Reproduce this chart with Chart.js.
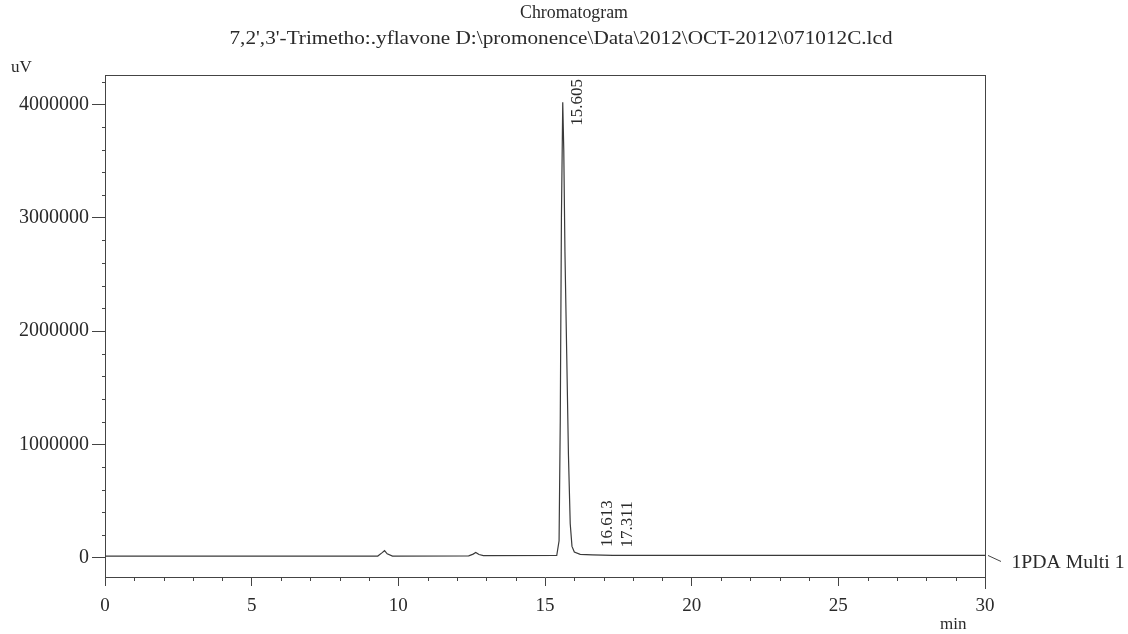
<!DOCTYPE html>
<html>
<head>
<meta charset="utf-8">
<script src="https://cdn.jsdelivr.net/npm/chart.js@4"></script>
<style>
  html, body { margin: 0; padding: 0; background: #ffffff; }
  #wrap { width: 1128px; height: 634px; position: relative; }
</style>
</head>
<body>
<div id="wrap"><canvas id="c"></canvas></div>
<script>
// ---- data ----
const titleLine1 = "Chromatogram";
const titleLine2 = "7,2',3'-Trimetho:.yflavone D:\\promonence\\Data\\2012\\OCT-2012\\071012C.lcd";
const yUnit = "uV";
const xUnit = "min";
const traceName = "1PDA Multi 1";

const timeMin = [0, 9.30, 9.45, 9.53, 9.62, 9.80, 12.40, 12.55, 12.64, 12.75, 12.90,
  15.40, 15.48, 15.52, 15.56, 15.605, 15.64, 15.68, 15.74, 15.80, 15.86, 15.92, 16.00,
  16.20, 16.613, 17.311, 30];
const signalUV = [15000, 15000, 45000, 62000, 35000, 14000, 16000, 32000, 46000, 28000, 18000,
  20000, 150000, 1200000, 3000000, 4020000, 3600000, 2700000, 1800000, 900000, 300000, 100000, 50000,
  30000, 25000, 20000, 20000];

const peakTimes = [15.605, 16.613, 17.311];
const peakHeights = [4020000, 25000, 20000];
const peakLabels = ["15.605", "16.613", "17.311"];

const xTicks = [0, 5, 10, 15, 20, 25, 30];
const xMinorStep = 1;
const yTicks = [0, 1000000, 2000000, 3000000, 4000000];
const yMinorStep = 200000;
const yRange = [-170000, 4260000];

// ---- drawing ----
const FONT = "'Liberation Serif', 'Times New Roman', serif";
const INK = '#2a2a2a';
const LINE = '#444';

const points = timeMin.map((t, i) => ({ x: t, y: signalUV[i] }));

function fitText(ctx, text, cx, cy, width) {
  const w = ctx.measureText(text).width;
  ctx.save();
  ctx.translate(cx, cy);
  ctx.scale(width / w, 1);
  ctx.textAlign = 'center';
  ctx.fillText(text, 0, 0);
  ctx.restore();
}

const decor = {
  id: 'decor',
  afterDraw(chart) {
    const ctx = chart.ctx;
    const a = chart.chartArea;
    const xs = chart.scales.x, ys = chart.scales.y;
    ctx.save();
    // top and right frame
    ctx.strokeStyle = LINE; ctx.lineWidth = 1;
    ctx.beginPath();
    ctx.moveTo(a.left, a.top + 0.5); ctx.lineTo(a.right, a.top + 0.5);
    ctx.moveTo(a.right + 0.5, a.top); ctx.lineTo(a.right + 0.5, a.bottom + 12);
    ctx.moveTo(a.left + 0.5, a.bottom); ctx.lineTo(a.left + 0.5, a.bottom + 6);
    ctx.stroke();
    // minor ticks
    ctx.beginPath();
    for (let v = yRange[0] - (yRange[0] % yMinorStep); v <= yRange[1]; v += yMinorStep) {
      if (v < yRange[0] || yTicks.includes(v)) continue;
      const py = Math.round(ys.getPixelForValue(v)) + 0.5;
      ctx.moveTo(a.left - 3, py); ctx.lineTo(a.left, py);
    }
    for (let v = xTicks[0]; v <= xTicks[xTicks.length - 1]; v += xMinorStep) {
      if (xTicks.includes(v)) continue;
      const px = Math.round(xs.getPixelForValue(v)) + 0.5;
      ctx.moveTo(px, a.bottom); ctx.lineTo(px, a.bottom + 4);
    }
    ctx.stroke();
    // titles
    ctx.fillStyle = INK;
    ctx.textBaseline = 'middle';
    ctx.font = '18px ' + FONT;
    fitText(ctx, titleLine1, 574, 13, 108);
    fitText(ctx, titleLine2, 561, 39, 663);
    ctx.textAlign = 'left';
    ctx.font = '17px ' + FONT;
    ctx.fillText(yUnit, 11, 68);
    ctx.fillText(xUnit, 940, 625);
    // trace name with leader
    const yEnd = ys.getPixelForValue(signalUV[signalUV.length - 1]);
    ctx.beginPath();
    ctx.moveTo(a.right + 3, yEnd); ctx.lineTo(a.right + 16, yEnd + 6);
    ctx.stroke();
    ctx.font = '18px ' + FONT;
    fitText(ctx, traceName, 1068, yEnd + 8, 113);
    // peak labels (rotated)
    ctx.font = '17px ' + FONT;
    peakLabels.forEach((lab, i) => {
      const px = xs.getPixelForValue(peakTimes[i]) + 15;
      let bottom = ys.getPixelForValue(peakHeights[i]) - 8;
      const w = ctx.measureText(lab).width;
      if (bottom - w < a.top + 3) bottom = a.top + 4 + w;
      ctx.save();
      ctx.translate(px, bottom);
      ctx.rotate(-Math.PI / 2);
      ctx.textAlign = 'left'; ctx.textBaseline = 'middle';
      ctx.fillText(lab, 0, 0);
      ctx.restore();
    });
    ctx.restore();
  }
};

new Chart(document.getElementById('c'), {
  type: 'line',
  data: {
    datasets: [{
      data: points,
      borderColor: '#3a3a3a',
      borderWidth: 1.2,
      pointRadius: 0,
      tension: 0,
      fill: false
    }]
  },
  options: {
    responsive: true,
    maintainAspectRatio: false,
    animation: false,
    parsing: false,
    layout: { padding: { left: 0, right: 143, top: 75, bottom: 0 } },
    plugins: { legend: { display: false }, title: { display: false }, tooltip: { enabled: false } },
    scales: {
      x: {
        type: 'linear',
        min: xTicks[0], max: xTicks[xTicks.length - 1],
        afterBuildTicks: s => { s.ticks = xTicks.map(v => ({ value: v })); },
        afterFit: s => { s.height = 57; },
        border: { display: true, color: LINE, width: 1 },
        grid: { drawOnChartArea: false, drawTicks: true, tickLength: 9, color: LINE, tickColor: LINE },
        ticks: { color: INK, font: { family: FONT, size: 19 }, padding: 9, maxRotation: 0 }
      },
      y: {
        type: 'linear',
        min: yRange[0], max: yRange[1],
        afterBuildTicks: s => { s.ticks = yTicks.map(v => ({ value: v })); },
        afterFit: s => { s.width = 105; },
        border: { display: true, color: LINE, width: 1 },
        grid: { drawOnChartArea: false, drawTicks: true, tickLength: 13, color: LINE, tickColor: LINE },
        ticks: { color: INK, font: { family: FONT, size: 20 }, padding: 3, callback: v => String(v) }
      }
    }
  },
  plugins: [decor]
});
</script>
</body>
</html>
